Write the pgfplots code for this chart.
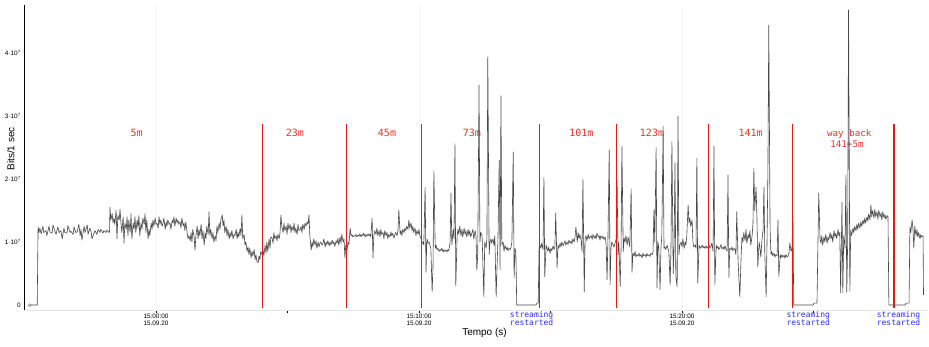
\documentclass[border=0pt]{standalone}
\usepackage{fontspec}
\setmainfont{Liberation Sans}
\setmonofont{DejaVu Sans Mono}
\usepackage{pgfplots}
\pgfplotsset{compat=1.18}
\definecolor{annred}{RGB}{235,50,40}
\definecolor{linered}{RGB}{226,25,20}
\definecolor{annblue}{RGB}{45,45,240}
\begin{document}
\begin{tikzpicture}
\useasboundingbox (0,0) rectangle (929pt,346pt);
\begin{axis}[
  at={(24.5pt,36pt)}, anchor=south west,
  scale only axis, width=902.5pt, height=305pt,
  xmin=-300, xmax=1759, ymin=-0.079, ymax=4.76,
  axis x line*=bottom, axis y line*=left,
  x axis line style={black!10, line width=0.6pt},
  y axis line style={black, line width=1.4pt},
  xtick={0,600,1200},
  xticklabels={{15:00:00\\15.09.20},{15:10:00\\15.09.20},{15:20:00\\15.09.20}},
  minor xtick={300,900,1500},
  ytick={0,1,2,3,4},
  yticklabels={0,{1·10\textsuperscript{7}},{2·10\textsuperscript{7}},{3·10\textsuperscript{7}},{4·10\textsuperscript{7}}},
  tick align=outside,
  major tick length=3pt, minor tick length=2.5pt,
  ytick style={draw=none},
  every major x tick/.append style={draw=black, line width=0.8pt},
  every minor x tick/.append style={draw=black, line width=0.8pt},
  xmajorgrids, x grid style={black!4},
  xticklabel style={align=center, font=\fontsize{6.4}{7.8}\selectfont, inner sep=0.5pt},
  yticklabel style={font=\fontsize{6.4}{7.8}\selectfont, inner sep=0.5pt},
  xlabel={Tempo (s)}, ylabel={Bits/1 sec},
  label style={font=\fontsize{10}{12}\selectfont},
  xlabel style={at={(axis description cs:0.5097,-0.0738)}, anchor=center},
  ylabel style={at={(axis description cs:-0.0152,0.528)}, anchor=center},
  clip=false,
]
% annotations (red)
\node[annred, font=\ttfamily\fontsize{10}{12}\selectfont, anchor=base] at (axis cs:-44,2.671) {5m};
\node[annred, font=\ttfamily\fontsize{10}{12}\selectfont, anchor=base] at (axis cs:316.7,2.671) {23m};
\node[annred, font=\ttfamily\fontsize{10}{12}\selectfont, anchor=base] at (axis cs:527,2.671) {45m};
\node[annred, font=\ttfamily\fontsize{10}{12}\selectfont, anchor=base] at (axis cs:720.5,2.671) {73m};
\node[annred, font=\ttfamily\fontsize{10}{12}\selectfont, anchor=base] at (axis cs:970.3,2.671) {101m};
\node[annred, font=\ttfamily\fontsize{10}{12}\selectfont, anchor=base] at (axis cs:1131.6,2.671) {123m};
\node[annred, font=\ttfamily\fontsize{10}{12}\selectfont, anchor=base] at (axis cs:1356.7,2.671) {141m};
\node[annred, font=\ttfamily\fontsize{9.2}{11}\selectfont, anchor=base] at (axis cs:1581.7,2.671) {way back};
\node[annred, font=\ttfamily\fontsize{9.2}{11}\selectfont, anchor=base] at (axis cs:1576.4,2.497) {141+5m};
% annotations (blue)
\node[annblue, font=\ttfamily\fontsize{8}{8}\selectfont, align=center, anchor=base] at (axis cs:857,-0.3286) {streaming\\restarted};
\node[annblue, font=\ttfamily\fontsize{8}{8}\selectfont, align=center, anchor=base] at (axis cs:1488,-0.3286) {streaming\\restarted};
\node[annblue, font=\ttfamily\fontsize{8}{8}\selectfont, align=center, anchor=base] at (axis cs:1694,-0.3286) {streaming\\restarted};
% traffic trace
\addplot[black!72, line width=0.6pt, line join=round] coordinates {
(-288,0) (-271,0) (-269,1.24) (-267,1.15) (-265,1.22) (-262,1.13) (-258,1.25) (-256,1.15) (-251,1.18) (-249,1.10) (-244,1.25) (-242,1.16) (-237,1.14) (-235,1.27) (-230,1.16) (-228,1.12) (-224,1.24) (-221,1.15) (-217,1.18) (-214,1.05) (-210,1.22) (-208,1.15) (-203,1.14) (-201,1.26) (-196,1.15) (-194,1.17) (-189,1.12) (-187,1.24) (-183,1.15) (-180,1.16) (-176,1.28) (-173,1.10) (-171,1.20) (-169,1.03) (-164,1.25) (-162,1.15) (-157,1.27) (-155,1.12) (-151,1.22) (-148,1.16) (-146,1.05) (-141,1.15) (-139,1.18) (-135,1.12) (-132,1.20) (-128,1.15) (-126,1.20) (-121,1.14) (-119,1.18) (-114,1.15) (-112,1.19) (-107,1.15) (-106,1.17) (-105,1.55)
(-103,1.35) (-100,1.45) (-98,1.30) (-96,1.38) (-94,1.28) (-91,1.50) (-89,1.05) (-87,1.42) (-84,1.35) (-82,1.52) (-80,1.30) (-78,1.15) (-75,1.40) (-73,0.98) (-71,1.30) (-68,1.20) (-66,1.40) (-64,1.10) (-62,1.35) (-59,1.15) (-57,1.45) (-55,1.05) (-52,1.30) (-50,1.20) (-48,1.40) (-46,1.15) (-43,1.35) (-41,1.22) (-39,1.42) (-37,1.10) (-34,1.30) (-32,1.20) (-30,1.38) (-27,1.28) (-25,1.45) (-23,1.15) (-21,1.35) (-18,1.05) (-16,1.20) (-14,1.10) (-11,1.30) (-9,1.20) (-7,1.35) (-5,1.25) (-2,1.38) (0,1.28) (2,1.30) (5,1.22) (7,1.40) (9,1.28) (11,1.35) (14,1.25) (16,1.30) (18,1.38) (21,1.20) (23,1.32) (25,1.25) (27,1.35) (30,1.28) (32,1.30) (34,1.20) (37,1.35) (39,1.30) (41,1.40) (43,1.25) (46,1.38) (48,1.30) (50,1.35) (52,1.28) (55,1.32) (57,1.22) (59,1.38) (62,1.25) (64,1.30) (66,1.18) (68,1.32) (71,1.15) (73,1.05) (75,1.10) (78,1.02) (80,1.15) (82,1.00) (84,1.20) (87,1.08) (89,0.87) (91,1.10) (94,1.25) (96,1.05) (98,1.20) (100,1.10) (103,1.28) (105,1.05) (107,1.18) (110,0.95) (112,1.15) (114,1.05) (116,1.25) (119,1.12) (121,1.48) (123,1.10) (125,1.20) (128,1.05) (130,1.15) (132,1.00) (135,1.10) (137,1.02) (139,1.25) (141,1.15) (144,1.30) (146,1.20) (148,1.35) (151,1.43) (153,1.25) (155,1.35) (157,1.15) (160,1.25) (162,1.10) (164,1.20) (167,1.05) (169,1.15) (171,1.08) (173,1.18) (176,1.05) (178,1.12) (180,1.10) (183,1.20) (185,1.05) (187,1.15) (189,1.08) (192,1.22) (194,1.10) (196,1.43) (198,1.05) (201,1.12) (203,0.95) (205,1.00) (208,0.85) (210,0.92) (212,0.80) (214,0.90) (217,0.75) (219,0.85) (221,0.78) (224,0.88) (226,0.72) (228,0.80) (230,0.70) (233,0.67) (235,0.78) (237,0.72) (239,0.85)
(242,0.80) (244,0.88) (246,0.78) (249,0.95) (251,0.82) (253,1.00) (255,0.85) (258,1.05) (260,0.90) (262,1.08) (265,1.06) (267,0.98) (269,1.15) (271,1.05) (274,1.10) (276,1.02) (278,1.12) (281,1.05) (283,1.15) (285,1.43) (287,1.25) (290,1.15) (292,1.30) (294,1.18) (297,1.25) (299,1.12) (301,1.30) (303,1.20) (306,1.28) (308,1.15) (310,1.25) (313,1.18) (315,1.30) (317,1.15) (319,1.22) (322,1.12) (324,1.28) (326,1.18) (329,1.20) (331,1.25) (333,1.15) (335,1.28) (338,1.20) (340,1.30) (342,1.25) (345,1.32) (347,1.28) (349,1.43) (351,1.10) (354,0.87) (356,1.00) (358,0.92) (360,1.05) (363,0.95) (365,1.02) (367,0.90) (370,1.00) (372,0.92) (374,0.98) (376,1.00) (379,0.95) (381,0.98) (383,1.05) (386,0.92) (388,1.00) (390,0.96) (392,1.02) (395,0.94) (397,1.00) (399,0.95) (402,1.03) (404,0.97) (406,1.00) (408,0.93) (411,1.02) (413,0.98) (415,1.06) (417,0.95) (420,1.08) (422,0.98) (424,1.12) (427,1.00) (429,1.05) (431,0.75) (433,0.95) (436,0.88) (438,1.00) (440,0.95) (443,1.22) (445,1.10) (447,1.12) (449,1.08) (452,1.10) (454,1.09) (456,1.12) (458,1.08) (461,1.11) (463,1.09) (465,1.13) (468,1.08) (470,1.12) (472,1.10) (474,1.14) (477,1.08) (479,1.12) (481,1.09) (484,1.13) (486,1.10) (488,1.12) (490,1.08) (493,1.38) (495,0.75) (497,1.10) (499,1.18) (502,1.12) (504,1.22) (506,1.10) (509,1.18) (511,1.08) (513,1.20) (515,1.12) (518,1.15) (520,1.05) (522,1.18) (525,1.10) (527,1.15) (529,1.05) (531,1.12) (534,1.08) (536,1.16) (538,1.10) (540,1.14) (543,1.06) (545,1.12) (547,1.15) (550,1.10) (552,1.18) (554,1.51) (557,1.12) (559,1.18) (561,1.10) (563,1.20) (566,1.15) (568,1.22) (570,1.18) (572,1.25) (575,1.20) (577,1.35) (579,1.22) (582,1.30) (584,1.18) (586,1.25) (588,1.15) (591,1.22) (593,1.10) (595,1.18) (598,1.12) (600,1.20) (602,1.10) (605,1.05) (607,0.98) (609,1.00) (611,0.95) (614,1.87) (616,0.52) (618,1.05) (621,0.98) (623,1.00) (625,0.95) (627,0.90) (630,0.21) (632,0.60) (634,2.13) (637,0.90) (639,0.95) (641,0.88) (643,0.90) (646,0.85) (648,0.88) (650,0.86) (652,0.90) (655,0.84) (657,0.88) (659,0.85) (662,0.87) (664,0.84) (666,0.88) (668,0.86) (671,1.00) (673,1.78) (675,0.95) (678,1.20) (680,1.05) (682,2.56) (684,0.30) (687,1.10) (689,1.20) (691,1.12) (693,1.25) (696,1.10) (698,1.20) (700,1.08) (703,1.22) (705,1.12) (707,1.18) (709,1.08) (712,1.20) (714,1.10) (716,1.18) (718,1.08) (721,1.15) (723,1.20) (725,1.05) (728,1.18) (730,1.10) (732,0.55) (734,0.80) (737,3.49) (739,1.00) (741,1.15) (744,1.10) (746,0.60) (748,0.13) (750,1.00) (753,0.90) (755,1.05) (757,3.94) (760,0.80) (762,1.00) (764,1.05) (766,0.98) (769,1.05) (771,0.95) (773,1.10) (776,0.13) (778,0.60) (780,1.00) (783,2.30) (785,0.56) (787,3.32) (789,0.95) (792,1.00) (794,0.85) (796,0.95) (799,0.88) (801,0.92) (803,0.86) (805,0.90) (808,0.88) (810,0.92) (812,1.00) (815,2.43) (817,0.43) (819,0.90) (821,0.85) (823,0.0) (867,0.0) (869,0.03) (872,0.03) (874,0.92)
(876,0.95) (878,0.90) (880,0.98) (883,0.88) (885,2.02) (887,0.45) (890,0.95) (892,0.90) (894,0.85) (896,0.92) (899,0.82) (901,0.90) (903,0.86) (906,0.94) (908,0.88) (910,0.92) (912,1.46) (915,0.59) (917,0.95) (919,0.90) (922,0.98) (924,0.92) (926,1.00) (929,0.94) (931,0.98) (933,1.02) (935,0.95) (938,1.00) (940,0.96) (942,1.03) (945,0.98) (947,1.02) (949,0.97) (951,1.05) (954,1.00) (956,1.08) (958,1.24) (961,1.00) (963,1.15) (965,1.05) (967,1.12) (970,1.02) (972,0.85) (974,2.00) (977,0.21) (979,1.05) (981,1.10) (983,1.02) (986,1.12) (988,1.05) (990,1.08) (993,1.10) (995,1.04) (997,1.12) (1000,1.06) (1002,1.10) (1004,1.05) (1006,1.14) (1009,1.08) (1011,1.10) (1013,1.03) (1015,1.10) (1018,1.06) (1020,1.09) (1022,1.04) (1025,1.08) (1027,0.95) (1029,0.40) (1031,1.00) (1034,2.46) (1036,0.32) (1038,0.90) (1040,1.00) (1043,0.95) (1045,0.92) (1047,0.98) (1050,1.05) (1052,1.98) (1054,0.80) (1056,1.00) (1059,0.29) (1061,0.90) (1063,2.52) (1066,0.85) (1068,1.06) (1070,1.00) (1072,1.10) (1075,0.95) (1077,1.08) (1079,1.00) (1081,0.92) (1084,1.84) (1086,0.52) (1088,0.82) (1091,0.78) (1093,0.85) (1095,0.76) (1097,0.80) (1100,0.78) (1102,0.82) (1104,0.77) (1106,0.80) (1109,0.75) (1111,0.82) (1113,0.78) (1116,0.80) (1118,0.76) (1120,0.82) (1122,0.78) (1125,0.80) (1127,0.77) (1129,0.82) (1132,0.80) (1134,0.85) (1136,1.51) (1138,1.00) (1141,2.50) (1143,0.27) (1145,1.00) (1147,0.92) (1150,0.24) (1152,0.90) (1154,1.10) (1157,2.84) (1159,0.90) (1161,0.92) (1163,0.88) (1166,0.95) (1168,0.90) (1170,0.85) (1173,0.32) (1175,0.95) (1177,2.59) (1180,0.50) (1182,0.90) (1184,2.25) (1186,0.45) (1189,0.29) (1191,3.00) (1193,0.80) (1195,0.95) (1198,1.00) (1200,0.92) (1202,1.05) (1205,0.90) (1207,1.00) (1209,0.95) (1211,1.10) (1214,1.59) (1216,1.30) (1218,1.38) (1220,1.25) (1223,1.35) (1225,1.00) (1227,0.92) (1230,0.95) (1232,0.90) (1234,2.33) (1236,0.35) (1239,0.95) (1241,0.92) (1243,0.90) (1246,0.95) (1248,0.91) (1250,0.93) (1252,0.90) (1255,0.94) (1257,0.90) (1259,0.92) (1262,0.95) (1264,0.90) (1266,0.93) (1268,0.98) (1271,0.85) (1273,2.52) (1275,0.32) (1278,0.95) (1280,0.90) (1282,0.93) (1284,0.88) (1287,0.92) (1289,0.96) (1291,0.89) (1294,0.92) (1296,0.88) (1298,0.94) (1300,0.90) (1303,0.85) (1305,2.06) (1307,0.43) (1309,0.90) (1312,0.88) (1314,0.92) (1316,0.86) (1319,0.90) (1321,0.88) (1323,0.80) (1325,1.48) (1328,0.70) (1330,0.40) (1332,0.13) (1335,0.80) (1337,1.08) (1339,1.00) (1341,1.15) (1344,1.02) (1346,1.20) (1348,0.98) (1351,1.12) (1353,1.05) (1355,1.18) (1357,0.95) (1360,1.10) (1362,1.30) (1364,2.17) (1366,1.50) (1369,1.87) (1371,1.40) (1373,0.60) (1376,1.00) (1378,0.90) (1380,0.76) (1382,1.00) (1385,1.20) (1387,1.87) (1389,0.80) (1392,0.13) (1394,1.00) (1396,2.10) (1398,4.44) (1401,1.20) (1403,0.80) (1405,0.85) (1407,0.78) (1410,0.82) (1412,0.76) (1414,0.80) (1417,0.78) (1419,1.35) (1421,0.45) (1424,0.80) (1426,0.75) (1428,0.80) (1430,0.76) (1433,0.79) (1435,0.74) (1437,0.80) (1440,0.76) (1442,0.78) (1444,0.82) (1446,0.98) (1449,0.85) (1451,0.90) (1453,1.41) (1455,0.0) (1499,0.0) (1501,0.03) (1508,0.03) (1510,0.90) (1512,1.78) (1515,1.05) (1517,0.98) (1519,1.10) (1521,0.95) (1524,1.08) (1526,1.00) (1528,1.12) (1531,0.98) (1533,1.08) (1535,1.03) (1538,1.15) (1540,1.05) (1542,1.12) (1544,1.00) (1547,1.18) (1549,1.08) (1551,1.14) (1553,1.05) (1556,1.20) (1558,1.10) (1560,1.15) (1562,0.19) (1565,1.63) (1567,0.19) (1569,1.10) (1572,0.90) (1574,2.06) (1576,0.20) (1578,1.00) (1580,4.68) (1583,0.22) (1585,1.19) (1587,1.10) (1590,1.22) (1592,1.15) (1594,1.25) (1597,1.18) (1599,1.28) (1601,1.20) (1603,1.30) (1606,1.22) (1608,1.32) (1610,1.25) (1613,1.35) (1615,1.28) (1617,1.38) (1619,1.30) (1622,1.40) (1624,1.33) (1626,1.45) (1629,1.35) (1631,1.59) (1633,1.40) (1635,1.50) (1638,1.38) (1640,1.52) (1642,1.40) (1645,1.48) (1647,1.36) (1649,1.50) (1652,1.40) (1654,1.46) (1656,1.35) (1658,1.48) (1661,1.38) (1663,1.44) (1665,1.36) (1668,1.42) (1670,1.40) (1672,0.0) (1709,0.0) (1711,0.03) (1718,0.03) (1720,1.24) (1722,1.15) (1725,1.35) (1727,1.20) (1729,0.90) (1731,1.25) (1734,1.10) (1736,1.20) (1738,1.08) (1740,1.15) (1743,1.05) (1745,1.12) (1747,1.08) (1750,1.10) (1751,0.16)
};
\addplot[only marks, mark=o, mark size=1.4pt, black!55, mark options={line width=0.5pt}] coordinates {(-288,0)};
% red marker lines
\addplot[linered, line width=1pt] coordinates {(242.5,-0.04) (242.5,2.873)};
\addplot[linered, line width=1pt] coordinates {(434.2,-0.04) (434.2,2.873)};
\addplot[linered, line width=1pt] coordinates {(605.3,-0.04) (605.3,2.873)};
\addplot[linered, line width=1pt] coordinates {(875.4,-0.04) (875.4,2.873)};
\addplot[linered, line width=1pt] coordinates {(1050.2,-0.04) (1050.2,2.873)};
\addplot[linered, line width=1pt] coordinates {(1260.0,-0.04) (1260.0,2.873)};
\addplot[linered, line width=1pt] coordinates {(1451.7,-0.04) (1451.7,2.873)};
\addplot[linered, line width=2pt] coordinates {(1683.6,-0.04) (1683.6,2.873)};
\end{axis}
\end{tikzpicture}
\end{document}
